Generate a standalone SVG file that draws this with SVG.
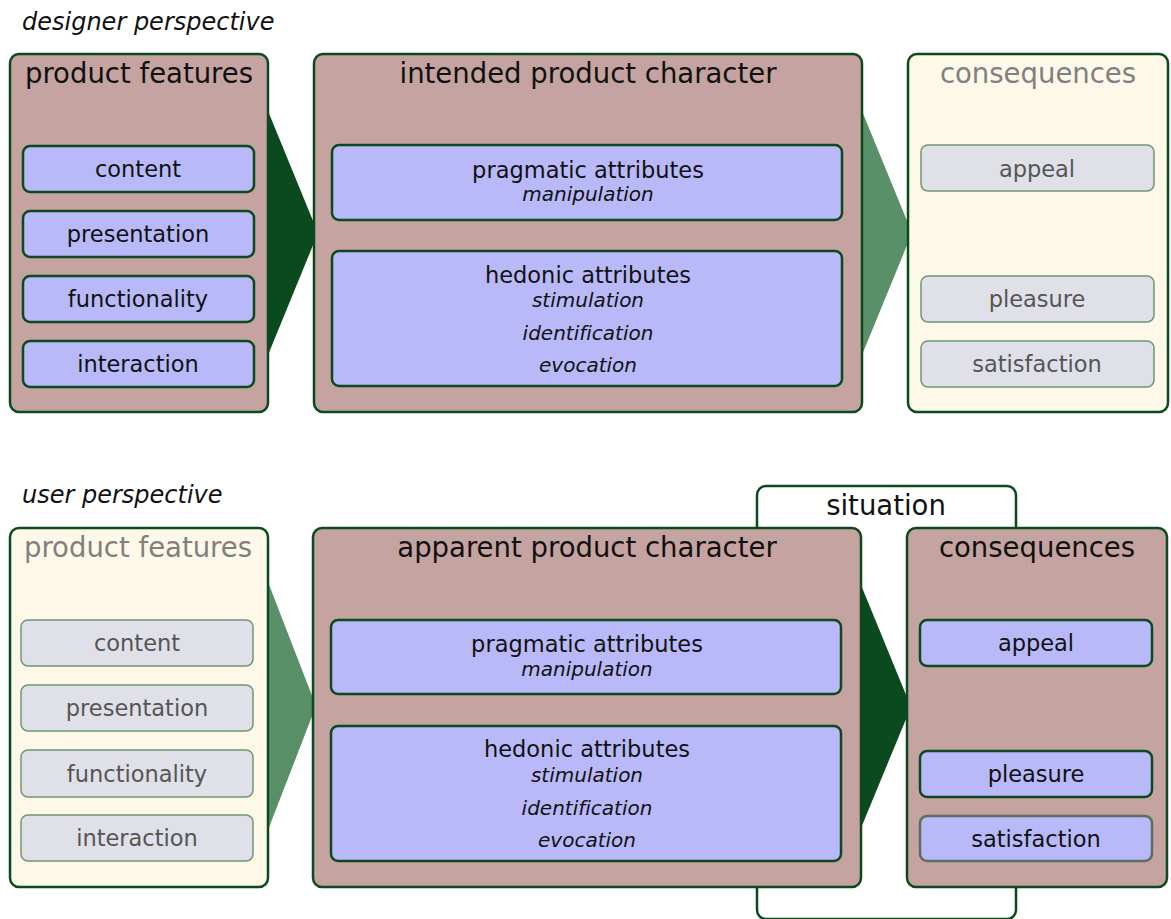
<svg xmlns="http://www.w3.org/2000/svg" width="1171" height="919" viewBox="0 0 1171 919">
  <style>
    .txt { font-family: "DejaVu Sans", "Open Sans", "Liberation Sans", sans-serif; fill: #111; text-anchor: middle; font-variant-ligatures: none; }
    .title { font-size: 27.5px; }
    .item { font-size: 22.5px; }
    .sub { font-size: 20px; font-style: italic; }
    .persp { font-family: "DejaVu Sans", "Open Sans", "Liberation Sans", sans-serif; font-size: 24px; font-style: italic; fill: #111; }
    .muted { fill: #808080; }
    .dim { fill: #555; }
    .panel { fill: #c4a3a1; stroke: #0b4a1e; stroke-width: 2.5; }
    .panel-light { fill: #fdf8e7; stroke: #0b4a1e; stroke-width: 2.5; }
    .attr { fill: #b9b9f9; stroke: #0b4a1e; stroke-width: 2.5; }
    .attr-off { fill: #e0e0e8; stroke: #6f9578; stroke-width: 1.5; }
    .arrow-dark { fill: #0b4a1e; }
    .arrow-light { fill: #5a9068; }
    .situation { fill: #ffffff; stroke: #0b4a1e; stroke-width: 2.5; }
  </style>

  <!-- perspective headings -->
  <text class="persp" x="22" y="30">designer perspective</text>
  <text class="persp" x="22" y="503">user perspective</text>

  <!-- situation frame behind the user row, running off the lower edge -->
  <g id="situation">
    <rect class="situation" x="757" y="486" width="259" height="433" rx="9"/>
    <text class="txt title" x="886" y="515">situation</text>
  </g>

  <!-- connectors (flow arrows between panels) -->
  <g id="connectors">
    <polygon class="arrow-dark" points="268,111 318,233 268,355"/>
    <polygon class="arrow-light" points="862,111 912,233 862,355"/>
    <polygon class="arrow-light" points="268,582 316,706 268,830"/>
    <polygon class="arrow-dark" points="861,585 911,707 861,828"/>
  </g>

  <!-- designer perspective: product features -->
  <g id="d-features">
    <rect class="panel" x="10" y="54" width="258" height="358" rx="9"/>
    <text class="txt title" x="139" y="83">product features</text>
    <rect class="attr" x="23" y="146" width="231" height="46" rx="7"/>
    <text class="txt item" x="138" y="177">content</text>
    <rect class="attr" x="23" y="211" width="231" height="46" rx="7"/>
    <text class="txt item" x="138" y="242">presentation</text>
    <rect class="attr" x="23" y="276" width="231" height="46" rx="7"/>
    <text class="txt item" x="138" y="307">functionality</text>
    <rect class="attr" x="23" y="341" width="231" height="46" rx="7"/>
    <text class="txt item" x="138" y="372">interaction</text>
  </g>

  <!-- designer perspective: intended product character -->
  <g id="d-character">
    <rect class="panel" x="314" y="54" width="548" height="358" rx="9"/>
    <text class="txt title" x="588" y="83">intended product character</text>
    <rect class="attr" x="332" y="145" width="510" height="75" rx="7"/>
    <text class="txt item" x="588" y="178">pragmatic attributes</text>
    <text class="txt sub" x="588" y="201">manipulation</text>
    <rect class="attr" x="332" y="251" width="510" height="135" rx="7"/>
    <text class="txt item" x="588" y="283">hedonic attributes</text>
    <text class="txt sub" x="588" y="307">stimulation</text>
    <text class="txt sub" x="588" y="340">identification</text>
    <text class="txt sub" x="588" y="372">evocation</text>
  </g>

  <!-- designer perspective: consequences -->
  <g id="d-consequences">
    <rect class="panel-light" x="908" y="54" width="260" height="358" rx="9"/>
    <text class="txt title muted" x="1038" y="83">consequences</text>
    <rect class="attr-off" x="921" y="145" width="233" height="46" rx="7"/>
    <text class="txt item dim" x="1037" y="177">appeal</text>
    <rect class="attr-off" x="921" y="276" width="233" height="46" rx="7"/>
    <text class="txt item dim" x="1037" y="307">pleasure</text>
    <rect class="attr-off" x="921" y="341" width="233" height="46" rx="7"/>
    <text class="txt item dim" x="1037" y="372">satisfaction</text>
  </g>

  <!-- user perspective: product features -->
  <g id="u-features">
    <rect class="panel-light" x="10" y="528" width="258" height="359" rx="9"/>
    <text class="txt title muted" x="138" y="557">product features</text>
    <rect class="attr-off" x="21" y="620" width="232" height="46" rx="7"/>
    <text class="txt item dim" x="137" y="651">content</text>
    <rect class="attr-off" x="21" y="685" width="232" height="46" rx="7"/>
    <text class="txt item dim" x="137" y="716">presentation</text>
    <rect class="attr-off" x="21" y="750" width="232" height="47" rx="7"/>
    <text class="txt item dim" x="137" y="782">functionality</text>
    <rect class="attr-off" x="21" y="815" width="232" height="46" rx="7"/>
    <text class="txt item dim" x="137" y="846">interaction</text>
  </g>

  <!-- user perspective: apparent product character -->
  <g id="u-character">
    <rect class="panel" x="313" y="528" width="548" height="359" rx="9"/>
    <text class="txt title" x="587" y="557">apparent product character</text>
    <rect class="attr" x="331" y="620" width="510" height="74" rx="7"/>
    <text class="txt item" x="587" y="652">pragmatic attributes</text>
    <text class="txt sub" x="587" y="676">manipulation</text>
    <rect class="attr" x="331" y="726" width="510" height="135" rx="7"/>
    <text class="txt item" x="587" y="757">hedonic attributes</text>
    <text class="txt sub" x="587" y="782">stimulation</text>
    <text class="txt sub" x="587" y="815">identification</text>
    <text class="txt sub" x="587" y="847">evocation</text>
  </g>

  <!-- user perspective: consequences -->
  <g id="u-consequences">
    <rect class="panel" x="907" y="528" width="260" height="359" rx="9"/>
    <text class="txt title" x="1037" y="557">consequences</text>
    <rect class="attr" x="920" y="620" width="232" height="46" rx="7"/>
    <text class="txt item" x="1036" y="651">appeal</text>
    <rect class="attr" x="920" y="751" width="232" height="46" rx="7"/>
    <text class="txt item" x="1036" y="782">pleasure</text>
    <rect class="attr" x="920" y="816" width="232" height="45" rx="7" style="stroke:#5c6e5e"/>
    <text class="txt item" x="1036" y="847">satisfaction</text>
  </g>
</svg>
